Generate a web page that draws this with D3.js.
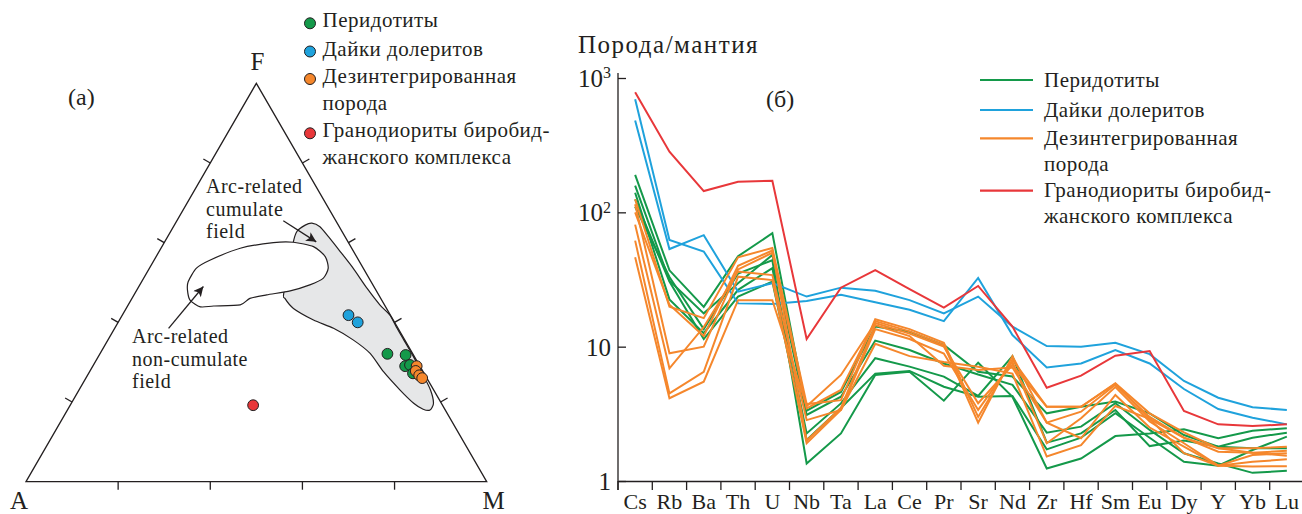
<!DOCTYPE html>
<html><head><meta charset="utf-8">
<script src="https://cdn.jsdelivr.net/npm/d3@7"></script>
<style>
html,body{margin:0;padding:0;background:#fff;}
svg{display:block;font-family:"Liberation Serif","Times New Roman",serif;}
</style></head><body>
<svg id="c" width="1302" height="514"></svg>
<script>
// ---------- DATA ----------
const elements = ["Cs","Rb","Ba","Th","U","Nb","Ta","La","Ce","Pr","Sr","Nd","Zr","Hf","Sm","Eu","Dy","Y","Yb","Lu"];
const yTicks = [1, 10, 100, 1000];

// Rock / primitive mantle
const peridotites = [
  [190, 37, 19.8, 47.1, 69.9, 3.34, 4.6, 14.1, 12.9, 10.3, 6.5, 6.0, 3.19, 3.57, 3.9, 3.19, 2.2, 1.8, 1.75, 1.75],
  [158, 31, 17.7, 29.7, 48.2, 3.1, 4.24, 11.1, 9.45, 7.5, 6.2, 5.2, 2.29, 2.54, 3.8, 2.4, 1.61, 1.35, 1.15, 1.19],
  [140, 22.5, 12.6, 26.5, 38.4, 2.26, 3.78, 8.2, 7.1, 5.98, 4.3, 8.5, 1.93, 2.26, 3.38, 1.82, 2.0, 1.8, 2.1, 2.29],
  [125, 30.5, 11.4, 23.6, 30.5, 2.02, 3.5, 6.3, 6.6, 5.03, 4.24, 4.3, 1.72, 2.1, 3.2, 2.1, 1.39, 1.3, 1.7, 2.14],
  [110, 33, 13.5, 35, 44, 1.35, 2.26, 6.16, 6.5, 3.96, 7.6, 4.24, 1.24, 1.47, 2.16, 2.26, 2.43, 2.08, 2.37, 2.47]
];
const dolerites = [
  [695, 62.3, 51.1, 21.0, 20.8, 21.9, 24.3, 21.4, 18.8, 15.5, 32.5, 12.2, 7.0, 7.5, 9.45, 7.5, 4.84, 3.43, 2.96, 2.64],
  [482, 53.3, 67.6, 25.7, 29.7, 23.6, 27.5, 26.1, 22.2, 17.7, 23.6, 14.1, 10.1, 10.0, 10.7, 8.8, 5.55, 4.17, 3.54, 3.38]
];
const disintegrated = [
  [125, 19.8, 16.3, 46.3, 54.2, 3.74, 4.0, 16.0, 13.5, 10.7, 3.0, 8.0, 3.57, 3.57, 5.34, 3.19, 2.3, 1.75, 1.75, 1.8],
  [115, 8.93, 10.0, 37.6, 50, 3.47, 4.76, 15.5, 13.0, 10.3, 2.72, 8.5, 2.72, 3.28, 5.2, 3.0, 2.1, 1.65, 1.62, 1.68],
  [81, 6.9, 14.0, 36.3, 34.1, 2.84, 3.38, 13.5, 11.4, 8.9, 3.38, 7.7, 1.91, 2.93, 5.0, 2.77, 1.91, 1.3, 1.56, 1.61],
  [61.6, 4.49, 6.5, 33.2, 31.3, 1.91, 3.38, 10.5, 8.5, 7.7, 7.1, 6.3, 1.52, 1.85, 3.62, 2.9, 1.61, 1.3, 1.28, 1.29],
  [46.3, 4.13, 5.49, 22.2, 22.2, 3.6, 6.16, 15.0, 12.5, 10.0, 3.79, 7.3, 3.57, 3.57, 5.3, 2.9, 2.1, 1.75, 1.62, 1.54],
  [100, 20.5, 12, 40, 52, 2.0, 3.5, 14.5, 12, 7.2, 6.7, 7.0, 2.72, 2.08, 4.37, 2.5, 1.8, 1.3, 1.39, 1.45]
];
const granodiorite = [
  [784, 283, 144, 169, 172, 11.4, 27.5, 37.2, 26.8, 19.5, 28.3, 14.1, 4.95, 6.08, 8.57, 9.29, 3.32, 2.64, 2.57, 2.64]
];

// Ternary A–F–M compositions, % [A, F, M]
const ternPeridotites = [[5.5,32.1,62.4],[1.7,31.8,66.5],[3.2,29.0,67.8],[2.0,29.3,68.7],[2.4,27.2,70.4]];
const ternDolerites = [[9.1,41.8,49.1],[8.0,40.0,52.0]];
const ternDisintegrated = [[0.7,29.0,70.3],[1.5,27.8,70.7],[1.3,26.7,72.0],[1.0,26.0,73.0]];
const ternGranodiorite = [[41.1,19.2,39.7]];

// Field outlines, % [F, M]
const cumulateField = [[60.0,28.0],[62.8,27.4],[64.4,28.4],[64.9,29.6],[64.0,31.8],[61.5,34.9],[57.7,39.4],[53.6,44.2],[48.5,49.8],[44.4,54.6],[41.8,58.1],[38.9,60.9],[35.6,64.2],[31.4,68.4],[26.8,72.8],[23.0,76.3],[19.7,78.6],[18.0,78.7],[18.2,77.1],[19.7,74.3],[23.0,69.7],[27.6,63.8],[32.2,58.6],[35.6,53.2],[38.5,47.5],[40.6,42.1],[43.5,36.3],[46.0,33.2],[47.3,32.3]];
const nonCumulateField = [[50.2,10.1],[53.6,10.2],[55.6,12.1],[58.6,17.2],[60.0,23.7],[60.1,28.0],[59.0,32.9],[56.5,36.7],[53.6,38.8],[51.1,39.0],[49.4,36.9],[47.9,33.4],[46.9,28.8],[46.0,25.6],[44.4,24.3],[44.1,18.7],[43.9,15.9],[45.6,12.8],[48.1,11.0]];
// Arrows, % [F, M] from -> to
const fieldArrows = [
  [[65.5,23.1],[60.2,32.9]],
  [[38.5,11.7],[49.0,14.0]]
];
const ternTicks = [20, 40, 60, 80];

const groups = [
  {name:["Перидотиты"], color:"#14994a", lines:peridotites, pts:ternPeridotites},
  {name:["Дайки долеритов"], color:"#1fa2dc", lines:dolerites, pts:ternDolerites},
  {name:["Дезинтегрированная","порода"], color:"#f5872c", lines:disintegrated, pts:ternDisintegrated},
  {name:["Гранодиориты биробид-","жанского комплекса"], color:"#e8373a", lines:granodiorite, pts:ternGranodiorite}
];

// ---------- DRAW ----------
const svg = d3.select("#c");
const ink = "#231f20";

// ===== Ternary =====
const uS = d3.scaleLinear().domain([0,100]).range([26,486.7]);
const fS = d3.scaleLinear().domain([0,100]).range([481.7,83.3]);
const proj = (a,f,m) => [uS(m + f/2), fS(f)];
const projFM = ([f,m]) => proj(100-f-m, f, m);

const tern = svg.append("g");
const closed = d3.line().curve(d3.curveCardinalClosed.tension(0.3));
tern.append("path").attr("d", closed(cumulateField.map(projFM)))
  .attr("fill","#e6e7e8").attr("stroke",ink).attr("stroke-width",1.2);
tern.append("path").attr("d", closed(nonCumulateField.map(projFM)))
  .attr("fill","#fff").attr("stroke",ink).attr("stroke-width",1.2);

const vA = proj(100,0,0), vF = proj(0,100,0), vM = proj(0,0,100);
tern.append("path").attr("d", d3.line()([vA,vF,vM]) + "Z")
  .attr("fill","none").attr("stroke",ink).attr("stroke-width",1.3);

const tl = 8, c30 = Math.cos(Math.PI/6), s30 = 0.5;
ternTicks.forEach(t => {
  const b = proj(100-t,0,t);
  const l = proj(100-t,t,0);
  const r = proj(0,t,100-t);
  [[b,[0,1]],[l,[-c30,-s30]],[r,[c30,-s30]]].forEach(([p,n]) => {
    tern.append("line").attr("x1",p[0]).attr("y1",p[1])
      .attr("x2",p[0]+n[0]*tl).attr("y2",p[1]+n[1]*tl)
      .attr("stroke",ink).attr("stroke-width",1.3);
  });
});

// arrows
svg.append("defs").append("marker").attr("id","ah").attr("viewBox","0 0 10 10")
  .attr("refX",10).attr("refY",5).attr("markerWidth",12).attr("markerHeight",10)
  .attr("markerUnits","userSpaceOnUse").attr("orient","auto")
  .append("path").attr("d","M0,0 L10,5 L0,10 L2.5,5 Z").attr("fill",ink);
fieldArrows.forEach(([a,b]) => {
  const p = projFM(a), q = projFM(b);
  tern.append("line").attr("x1",p[0]).attr("y1",p[1]).attr("x2",q[0]).attr("y2",q[1])
    .attr("stroke",ink).attr("stroke-width",1.3).attr("marker-end","url(#ah)");
});

// points
groups.forEach(g => {
  tern.selectAll(null).data(g.pts).enter().append("circle")
    .attr("cx", d => proj(...d)[0]).attr("cy", d => proj(...d)[1])
    .attr("r",5.4).attr("fill",g.color).attr("stroke",ink).attr("stroke-width",1);
});

// text helpers
const txt = (x,y,s,size,anchor) => svg.append("text").attr("x",x).attr("y",y)
  .attr("font-size",size).attr("fill",ink).attr("text-anchor",anchor||"start").text(s);
const multi = (x,y,lines,size,lh,ls) => {
  const t = svg.append("text").attr("x",x).attr("y",y).attr("font-size",size)
    .attr("fill",ink).attr("letter-spacing",ls||0);
  lines.forEach((s,i) => t.append("tspan").attr("x",x).attr("dy", i ? lh : 0).text(s));
  return t;
};

txt(vF[0]+1, 70, "F", 25, "middle");
txt(vA[0]-7, 509, "A", 25, "middle");
txt(vM[0]+7, 509, "M", 25, "middle");
txt(68, 105, "(a)", 24);
multi(206, 193, ["Arc-related","cumulate","field"], 20, 22.5, 0.5);
multi(132, 343, ["Arc-related","non-cumulate","field"], 20, 22.5, 0.5);

// left legend
const legL = [23.3, 51.5, 79, 133.3];
groups.forEach((g,i) => {
  svg.append("circle").attr("cx",310).attr("cy",legL[i]).attr("r",5.5)
    .attr("fill",g.color).attr("stroke",ink).attr("stroke-width",1);
  multi(322.5, legL[i]+4, g.name, 21, 26.7, 0.5);
});

// ===== Spider diagram =====
const x = d3.scaleBand().domain(elements).range([618, 618+20*34.3]);
const y = d3.scaleLog().domain([1,1000]).range([481,78]);
const cx = e => x(e) + x.bandwidth()/2;
const sp = svg.append("g");

const lineGen = d3.line().x((d,i) => cx(elements[i])).y(d => y(d));
groups.forEach(g => {
  g.lines.forEach(vals => {
    sp.append("path").attr("d", lineGen(vals)).attr("fill","none")
      .attr("stroke",g.color).attr("stroke-width",2).attr("stroke-linejoin","miter");
  });
});

// y axis
const yAx = sp.append("g").attr("transform","translate(618,0)")
  .call(d3.axisLeft(y).tickValues(yTicks).tickSize(-8).tickSizeOuter(0).tickPadding(7)
    .tickFormat(d => d >= 100 ? "10" : String(d)));
yAx.select(".domain").remove();
yAx.selectAll("line").attr("stroke",ink).attr("stroke-width",1.3);
yAx.selectAll("text").attr("font-size",25).attr("font-family","Liberation Serif").attr("fill",ink)
  .attr("dy","0.34em")
  .each(function(d){ if (d >= 100) d3.select(this).append("tspan").attr("dy","-0.55em")
      .attr("font-size",16).text(Math.round(Math.log10(d))); });
sp.append("line").attr("x1",618).attr("x2",618).attr("y1",y(1000)-5).attr("y2",y(1)+9)
  .attr("stroke",ink).attr("stroke-width",1.3);

// x axis
const xAx = sp.append("g").attr("transform",`translate(0,${y(1)})`)
  .call(d3.axisBottom(x).tickSize(0).tickPadding(0));
xAx.select(".domain").attr("stroke",ink).attr("stroke-width",1.3);
xAx.selectAll("text").attr("font-size",22).attr("font-family","Liberation Serif").attr("fill",ink)
  .attr("y",27.5).attr("dy",0);
elements.forEach(e => {
  sp.append("line").attr("x1",x(e)).attr("x2",x(e)).attr("y1",y(1)).attr("y2",y(1)+9)
    .attr("stroke",ink).attr("stroke-width",1.3);
});

txt(578, 53, "Порода/мантия", 25).attr("letter-spacing",1.5);
txt(766, 107, "(б)", 24);

// right legend
const legR = [80, 110, 138.3, 190.7];
groups.forEach((g,i) => {
  svg.append("line").attr("x1",980).attr("x2",1033).attr("y1",legR[i]).attr("y2",legR[i])
    .attr("stroke",g.color).attr("stroke-width",2.2);
  multi(1044, legR[i]+6.5, g.name, 21, 26, 0.5);
});
</script>
</body></html>
